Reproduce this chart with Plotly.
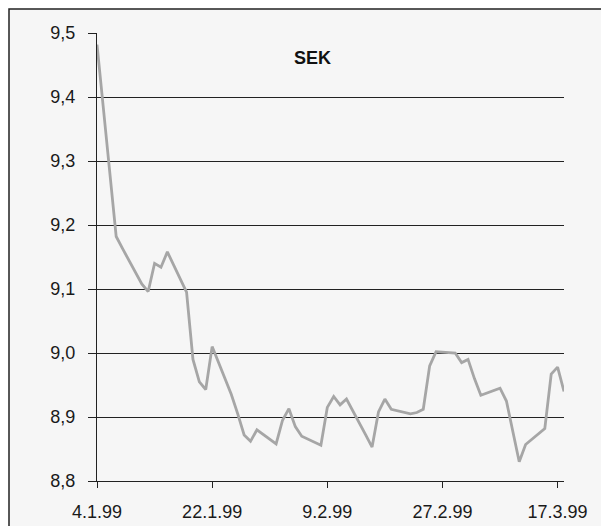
import plotly.graph_objects as go

dates = [
    "1999-01-04", "1999-01-05", "1999-01-06", "1999-01-07", "1999-01-08",
    "1999-01-11", "1999-01-12", "1999-01-13", "1999-01-14", "1999-01-15",
    "1999-01-18", "1999-01-19", "1999-01-20", "1999-01-21", "1999-01-22",
    "1999-01-25", "1999-01-26", "1999-01-27", "1999-01-28", "1999-01-29",
    "1999-02-01", "1999-02-02", "1999-02-03", "1999-02-04", "1999-02-05",
    "1999-02-08", "1999-02-09", "1999-02-10", "1999-02-11", "1999-02-12",
    "1999-02-15", "1999-02-16", "1999-02-17", "1999-02-18", "1999-02-19",
    "1999-02-22", "1999-02-23", "1999-02-24", "1999-02-25", "1999-02-26",
    "1999-03-01", "1999-03-02", "1999-03-03", "1999-03-04", "1999-03-05",
    "1999-03-08", "1999-03-09", "1999-03-10", "1999-03-11", "1999-03-12",
    "1999-03-15", "1999-03-16", "1999-03-17", "1999-03-18",
]
sek = [
    9.482, 9.380, 9.275, 9.182, 9.163,
    9.108, 9.096, 9.140, 9.134, 9.158,
    9.095, 8.990, 8.955, 8.943, 9.010,
    8.935, 8.905, 8.872, 8.862, 8.880,
    8.858, 8.895, 8.913, 8.885, 8.870,
    8.856, 8.915, 8.932, 8.919, 8.928,
    8.872, 8.853, 8.908, 8.928, 8.912,
    8.905, 8.907, 8.912, 8.980, 9.002,
    9.000, 8.985, 8.990, 8.960, 8.934,
    8.945, 8.925, 8.875, 8.830, 8.857,
    8.882, 8.967, 8.978, 8.940,
]
title_text = "SEK"
x_range = ["1999-01-04", "1999-03-18"]
y_range = [8.8, 9.5]

# page body has an 8px margin, so figure is drawn 8px in from the window edge
W, H = 601, 518
L, R, T, B = 89, 45, 25, 45
pw, ph = W - L - R, H - T - B

fig = go.Figure()
fig.add_trace(go.Scatter(
    x=dates, y=sek, mode="lines",
    line=dict(color="#a6a6a6", width=2.8),
    hoverinfo="skip", showlegend=False,
))

font = dict(family="Liberation Sans, Arial, sans-serif", size=18, color="#1a1a1a")

fig.update_layout(
    width=W, height=H,
    margin=dict(l=L, r=R, t=T, b=B, autoexpand=False),
    paper_bgcolor="white",
    plot_bgcolor="#fdfdfd",
    separators=", ",
    font=font,
    showlegend=False,
    xaxis=dict(
        type="date", range=x_range,
        tick0="1999-01-04", dtick=18 * 86400000,
        tickformat="%-d.%-m.%y",
        ticks="outside", ticklen=6, tickcolor="#222", tickwidth=1,
        ticklabelstandoff=8,
        showgrid=False, zeroline=False,
        showline=True, linecolor="#222", linewidth=1,
        tickfont=font,
    ),
    yaxis=dict(
        range=y_range, dtick=0.1, tick0=8.8, tickformat=".1f",
        ticks="outside", ticklen=8, tickcolor="#222", tickwidth=1,
        ticklabelstandoff=9,
        showgrid=True, gridcolor="#222", gridwidth=1,
        zeroline=False,
        showline=True, linecolor="#222", linewidth=1,
        tickfont=font,
    ),
    shapes=[
        dict(
            type="rect", xref="paper", yref="paper", layer="below",
            x0=(1 - L) / pw, x1=(640 - L) / pw,
            y0=-(560 - (H - B)) / ph, y1=1 + (T - 1) / ph,
            line=dict(color="#222", width=1.5),
            fillcolor="#f6f6f6",
        ),
    ],
    annotations=[
        dict(
            text="<b>" + title_text + "</b>", xref="paper", yref="paper",
            x=(304 - L) / pw, y=1 - (50 - T) / ph,
            xanchor="center", yanchor="middle", showarrow=False,
            font=dict(family="Liberation Sans, Arial, sans-serif", size=18, color="#111"),
        ),
    ],
)

fig.write_html("out.html")
